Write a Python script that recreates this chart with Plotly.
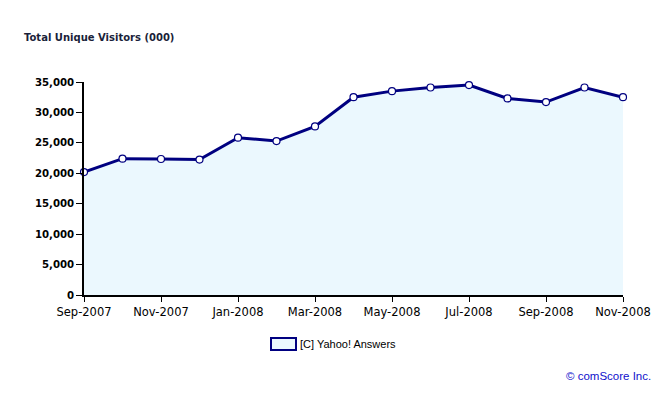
import plotly.graph_objects as go

months = ["Sep-2007", "Oct-2007", "Nov-2007", "Dec-2007", "Jan-2008", "Feb-2008",
          "Mar-2008", "Apr-2008", "May-2008", "Jun-2008", "Jul-2008", "Aug-2008",
          "Sep-2008", "Oct-2008", "Nov-2008"]
visitors = [20200, 22400, 22350, 22250, 25850, 25300, 27700, 32500, 33500,
            34100, 34500, 32300, 31700, 34100, 32500]
x_ticks = ["Sep-2007", "Nov-2007", "Jan-2008", "Mar-2008", "May-2008",
           "Jul-2008", "Sep-2008", "Nov-2008"]
y_ticks = [0, 5000, 10000, 15000, 20000, 25000, 30000, 35000]
series_name = "[C] Yahoo! Answers"
title_text = "Total Unique Visitors (000)"
credit_text = "© comScore Inc."

NAVY = "#000080"
FILL = "#EBF8FE"
PW, PH = 539, 213  # plot area size in px

fig = go.Figure()
fig.add_trace(go.Scatter(
    x=months, y=visitors, mode="lines+markers", fill="tozeroy",
    fillcolor=FILL, line=dict(color=NAVY, width=3),
    marker=dict(size=7, color="white", line=dict(color=NAVY, width=1.2)),
    name=series_name, showlegend=False, cliponaxis=False,
))

fig.update_layout(
    width=657, height=387,
    margin=dict(l=76, r=42, t=74, b=100),
    paper_bgcolor="white", plot_bgcolor="white",
    font=dict(family="DejaVu Sans", color="black"),
    xaxis=dict(
        type="category", range=[0, len(months) - 1],
        tickvals=x_ticks, ticktext=x_ticks,
        showline=True, linecolor="black", linewidth=1.5,
        ticks="outside", ticklen=5, tickcolor="black", tickwidth=1,
        showgrid=False, zeroline=False,
        tickfont=dict(family="DejaVu Sans", size=11.5, color="black"),
    ),
    yaxis=dict(
        range=[0, 35000], tickvals=y_ticks,
        ticktext=[f"<b>{v:,}</b>" for v in y_ticks],
        showline=True, linecolor="black", linewidth=1.5,
        ticks="outside", ticklen=6, tickcolor="black", tickwidth=1,
        showgrid=False, zeroline=False,
        tickfont=dict(family="DejaVu Sans", size=10.2, color="black"),
    ),
    annotations=[
        dict(text=f"<b>{title_text}</b>", xref="paper", yref="paper",
             x=-(84-22)/PW, y=1 + (82-37)/PH, xanchor="left", yanchor="middle",
             showarrow=False, font=dict(family="DejaVu Sans", size=10, color="#1a1f3a")),
        dict(text=series_name, xref="paper", yref="paper",
             x=(298-84)/PW, y=-(344-295)/PH, xanchor="left", yanchor="middle",
             showarrow=False, font=dict(family="Liberation Sans", size=11, color="black")),
        dict(text=credit_text, xref="paper", yref="paper",
             x=(653-84)/PW, y=-(376-295)/PH, xanchor="right", yanchor="middle",
             showarrow=False, font=dict(family="Liberation Sans", size=11.5, color="#1010CC")),
    ],
    shapes=[
        dict(type="rect", xref="paper", yref="paper",
             x0=(271-84)/PW, x1=(296-84)/PW,
             y0=-(338-295)/PH, y1=-(350-295)/PH,
             fillcolor=FILL, line=dict(color=NAVY, width=2)),
    ],
)

fig.write_html("out.html")
